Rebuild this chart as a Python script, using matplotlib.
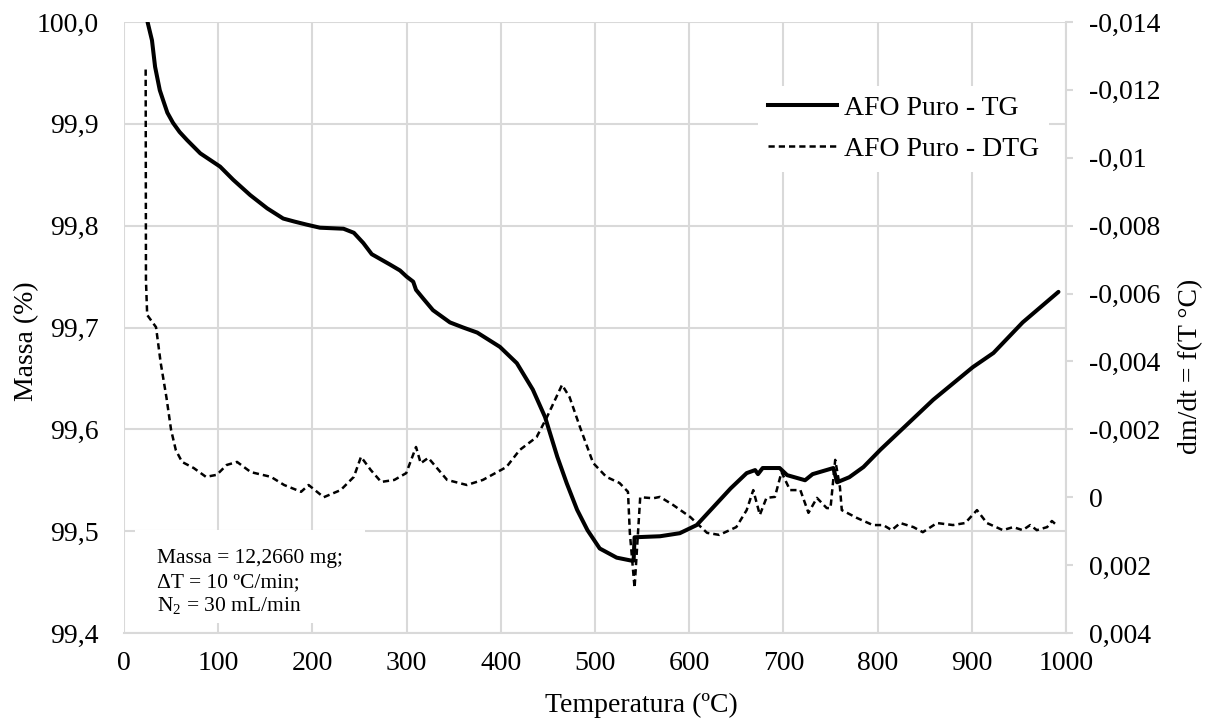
import matplotlib
matplotlib.use('Agg')
import matplotlib.pyplot as plt
from matplotlib.patches import Rectangle
from matplotlib.lines import Line2D

plt.rcParams['font.family'] = ['Liberation Serif', 'DejaVu Serif']
plt.rcParams['mathtext.fontset'] = 'custom'
plt.rcParams['mathtext.rm'] = 'Liberation Serif'
plt.rcParams['mathtext.it'] = 'Liberation Serif:italic'

# ---------------- data ----------------
tg_temp = [25, 29.7, 33, 38, 41.6, 46, 52, 59, 67, 81, 102, 116, 134, 152, 169, 181,
           194, 208, 233, 244, 254, 263, 282, 293, 300, 307, 310, 318, 328, 346,
           360, 375, 399, 417, 434, 447, 460, 470, 481, 492, 505, 523, 539, 541,
           542, 569, 590, 608, 626, 644, 661, 670, 673, 678, 696, 704, 723, 731,
           753, 757, 770, 785, 803, 827, 859, 901, 923, 954, 992]
tg_mass = [100.0, 99.982, 99.956, 99.933, 99.923, 99.911, 99.901, 99.892, 99.884,
           99.871, 99.858, 99.845, 99.830, 99.817, 99.807, 99.804, 99.801, 99.798,
           99.797, 99.793, 99.783, 99.772, 99.762, 99.756, 99.750, 99.745, 99.737,
           99.728, 99.717, 99.705, 99.700, 99.695, 99.681, 99.665, 99.639, 99.612,
           99.573, 99.547, 99.521, 99.501, 99.483, 99.474, 99.471, 99.471, 99.494,
           99.495, 99.498, 99.506, 99.524, 99.542, 99.557, 99.560, 99.556, 99.562,
           99.562, 99.555, 99.550, 99.556, 99.562, 99.548, 99.553, 99.563, 99.580,
           99.601, 99.629, 99.661, 99.675, 99.705, 99.735]

dtg_temp = [23, 23.3, 24.6, 34, 39, 45, 50, 55, 61.6, 74, 87, 98.5, 109, 120, 134.6,
            156, 170, 188, 196, 212, 230, 244, 251.6, 262, 273, 287, 299.6, 310,
            315, 323, 343, 364, 381, 406, 420, 438, 449, 465, 473, 484, 498, 512,
            526, 535, 537, 542, 548, 562, 569, 583, 601, 619, 632, 650, 661, 668,
            675, 682, 691, 698, 707, 718, 726.6, 735.6, 746, 750, 755, 760, 762,
            778, 795, 806, 815, 824, 838, 848, 863, 880, 893, 905.5, 916, 933, 944,
            954, 962, 969, 980, 985, 990]
dtg_rate = [-0.0126, -0.0064, -0.00537, -0.00501, -0.00395, -0.00295, -0.00198,
            -0.00139, -0.00104, -0.00086, -0.0006, -0.00066, -0.00095, -0.00104,
            -0.00074, -0.0006, -0.00036, -0.00016, -0.00036, 0.0, -0.00021, -0.0006,
            -0.00119, -0.0008, -0.00045, -0.00051, -0.00071, -0.00148, -0.0010,
            -0.00116, -0.00051, -0.00036, -0.00051, -0.00089, -0.00139, -0.00177,
            -0.00236, -0.00331, -0.00295, -0.00207, -0.00101, -0.0006, -0.00042,
            -0.00016, 0.00105, 0.00267, 0.0, 0.00003, -0.00001, 0.00023, 0.00058,
            0.00105, 0.00111, 0.00088, 0.00038, -0.00021, 0.00052, 0.00002, -0.00001,
            -0.00074, -0.00021, -0.00021, 0.00046, 0.00002, 0.00032, 0.00032,
            -0.0011, -0.0003, 0.00038, 0.00061, 0.00082, 0.00082, 0.00097, 0.00076,
            0.00088, 0.00103, 0.00076, 0.00082, 0.00076, 0.00038, 0.00076, 0.00097,
            0.00088, 0.00097, 0.00082, 0.00097, 0.00088, 0.0007, 0.00082]

x_ticks = [0, 100, 200, 300, 400, 500, 600, 700, 800, 900, 1000]
x_tick_labels = ['0', '100', '200', '300', '400', '500', '600', '700', '800', '900', '1000']
mass_ticks = [99.4, 99.5, 99.6, 99.7, 99.8, 99.9, 100.0]
mass_tick_labels = ['99,4', '99,5', '99,6', '99,7', '99,8', '99,9', '100,0']
rate_ticks = [0.004, 0.002, 0.0, -0.002, -0.004, -0.006, -0.008, -0.01, -0.012, -0.014]
rate_tick_labels = ['0,004', '0,002', '0', '-0,002', '-0,004', '-0,006', '-0,008',
                    '-0,01', '-0,012', '-0,014']

series_labels = ['AFO Puro - TG', 'AFO Puro - DTG']
note_lines = ['Massa = 12,2660 mg;', '\u0394T = 10 \u00baC/min;',
              'N$_{\\mathregular{2}}$ = 30 mL/min']

assert len(tg_temp) == len(tg_mass)
assert len(dtg_temp) == len(dtg_rate)

# ---------------- figure ----------------
W, H = 1216, 722
grid_c = '#d9d9d9'
dash = (0, (2.5, 1.6))
fig = plt.figure(figsize=(W / 100, H / 100), dpi=100)
ax = fig.add_axes([124 / W, 1 - 633 / H, 942 / W, 611 / H])
ax2 = ax.twinx()

ax.plot(tg_temp, tg_mass, color='black', lw=2.9, solid_joinstyle='round',
        solid_capstyle='round', zorder=3)
ax2.plot(dtg_temp, dtg_rate, color='black', lw=1.8, linestyle=dash, zorder=3)

ax.set_xlim(0, 1000)
ax.set_ylim(99.4, 100.0)
ax2.set_ylim(0.004, -0.014)

ax.set_xticks(x_ticks)
ax.set_xticklabels(x_tick_labels)
ax.set_yticks(mass_ticks)
ax.set_yticklabels(mass_tick_labels)
ax2.set_yticks(rate_ticks)
ax2.set_yticklabels(rate_tick_labels)

ax.grid(True, color=grid_c, lw=1.5)
ax.set_axisbelow(True)
for s in ['top', 'left']:
    ax.spines[s].set_visible(False)
    ax2.spines[s].set_visible(False)
ax.spines['bottom'].set_color(grid_c)
ax.spines['bottom'].set_linewidth(1.5)
ax.spines['right'].set_visible(False)
ax2.spines['bottom'].set_visible(False)
ax2.spines['right'].set_color(grid_c)
ax2.spines['right'].set_linewidth(1.5)

ax.tick_params(axis='y', length=0, pad=18.5, labelsize=20)
ax.tick_params(axis='x', length=0, pad=13, labelsize=20)
ax2.tick_params(axis='y', length=5, width=1.5, color=grid_c, pad=11.5,
                labelsize=20, direction='out')

# axis labels
ax.set_xlabel('Temperatura (\u00baC)', fontsize=20)
ax.xaxis.set_label_coords((641 - 124) / 942, (633 - 705) / 611)
ax.xaxis.label.set_verticalalignment('center')
ax.set_ylabel('Massa (%)', fontsize=20)
ax.yaxis.set_label_coords((27 - 124) / 942, (633 - 341) / 611)
ax.yaxis.label.set_verticalalignment('center')
ax2.set_ylabel('dm/dt = f(T \u00b0C)', fontsize=20)
ax2.yaxis.set_label_coords((1191 - 124) / 942, (633 - 366) / 611)
ax2.yaxis.label.set_verticalalignment('center')

# legend
handles = [Line2D([], [], color='black', lw=2.9),
           Line2D([], [], color='black', lw=1.8, linestyle=dash)]
leg = ax2.legend(handles, series_labels, loc='upper left',
                 bbox_to_anchor=((758 - 124) / 942, (633 - 86) / 611),
                 borderaxespad=0, frameon=True, fancybox=False, edgecolor='none',
                 facecolor='white', framealpha=1, fontsize=20, handlelength=2.5,
                 handletextpad=0.25, borderpad=0.35, labelspacing=0.55)

# annotation box
ax.add_patch(Rectangle(((135 - 124) / 942, (633 - 623) / 611), 230 / 942, 93 / 611,
                       transform=ax.transAxes, facecolor='white', edgecolor='none',
                       zorder=2))
for line, yb in zip(note_lines, [563, 587, 611]):
    fig.text(157 / W, 1 - yb / H, line, fontsize=15.5, ha='left', va='baseline')

fig.savefig('out.png', dpi=100)
